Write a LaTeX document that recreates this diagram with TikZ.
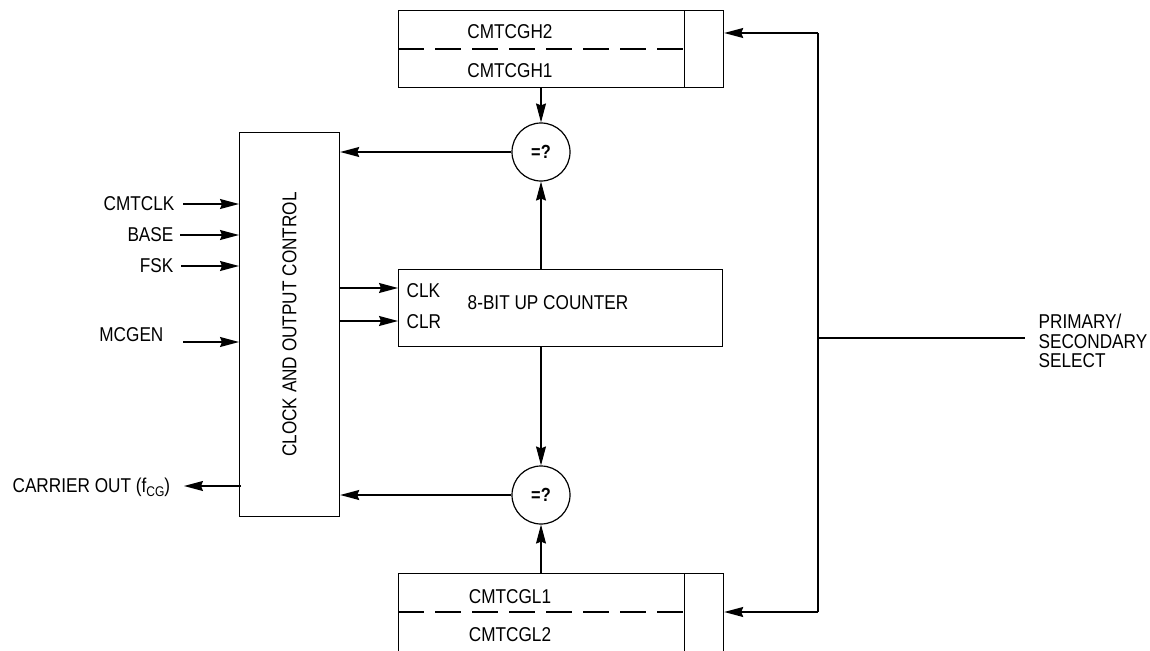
\documentclass[tikz,border=0pt]{standalone}
\usepackage{fontspec}
\setmainfont{Liberation Sans}[FakeStretch=0.86]
\usetikzlibrary{arrows.meta}
\begin{document}
\begin{tikzpicture}[x=1pt,y=-1pt, line width=1.2pt,
  arr/.style={-{Stealth[length=19pt,width=10pt,inset=2pt]}},
  lbl/.style={font=\fontsize{20}{19.5}\selectfont, inner sep=0pt},
  box/.style={draw, inner sep=0pt, anchor=north west},
  cmp/.style={draw, circle, minimum size=58pt, inner sep=0pt, font=\fontsize{19}{19}\selectfont\bfseries},
  dsh/.style={dash pattern=on 26pt off 11pt}]
\useasboundingbox (0,0) rectangle (1150,650);
\clip (0,0) rectangle (1150,650);
% top register
\node[box, minimum width=286pt, minimum height=77pt] (th) at (398,10) {};
\node[box, minimum width=39pt, minimum height=77pt] (ts) at (684,10) {};
\draw[dsh] (th.west) -- (th.east);
\node[lbl] (h2) at (510,32) {CMTCGH2};
\node[lbl] (h1) at (510,71) {CMTCGH1};
% comparators
\node[cmp] (ch) at (541,152) {=?};
\node[cmp] (cl) at (541,495) {=?};
% clock box
\node[box, minimum width=100pt, minimum height=384pt] (clk) at (239,132) {};
\node[lbl, rotate=90] (clkt) at (clk.center) {CLOCK AND OUTPUT CONTROL};
% counter
\node[box, minimum width=324pt, minimum height=77pt] (cnt) at (398,269) {};
\node[lbl, anchor=west] (clkin) at (406,291) {CLK};
\node[lbl, anchor=west] (clrin) at (406,322) {CLR};
\node[lbl] (cntt) at (548,303) {8-BIT UP COUNTER};
% bottom register
\node[box, minimum width=286pt, minimum height=95pt] (lh) at (398,573) {};
\node[box, minimum width=39pt, minimum height=95pt] (ls) at (684,573) {};
\draw[dsh] ([yshift=-39pt]lh.north west) -- ([yshift=-39pt]lh.north east);
\node[lbl] (l1) at (510,597) {CMTCGL1};
\node[lbl] (l2) at (510,635) {CMTCGL2};
% left inputs
\node[lbl, anchor=east] (i1) at (175,204) {CMTCLK};
\node[lbl, anchor=east] (i2) at (174,235) {BASE};
\node[lbl, anchor=east] (i3) at (174,266) {FSK};
\node[lbl, anchor=east] (i4) at (164,335) {MCGEN};
\coordinate (s1) at (183,204);
\coordinate (s2) at (180,235);
\coordinate (s3) at (181,266);
\coordinate (s4) at (183,342);
\draw[arr] (s1) -- (s1 -| clk.west);
\draw[arr] (s2) -- (s2 -| clk.west);
\draw[arr] (s3) -- (s3 -| clk.west);
\draw[arr] (s4) -- (s4 -| clk.west);
% carrier out
\node[lbl, anchor=west] (co) at (12,487) {CARRIER OUT (f{\fontsize{14}{14}\selectfont\raisebox{-4pt}{CG}})};
\coordinate (cos) at (241,486);
\coordinate (coe) at (184,486);
\draw[arr] (cos) -- (coe);
% clock to counter
\coordinate (k1) at (340,288);
\coordinate (k2) at (340,321);
\draw[arr] (k1) -- (k1 -| cnt.west);
\draw[arr] (k2) -- (k2 -| cnt.west);
% vertical data paths
\draw[arr] (ch |- th.south) -- (ch.north);
\draw[arr] (ch |- cnt.north) -- (ch.south);
\draw[arr] (cl |- cnt.south) -- (cl.north);
\draw[arr] (cl |- lh.north) -- (cl.south);
% comparator outputs
\draw[arr] (ch.west) -- (ch.west -| clk.east);
\draw[arr] (cl.west) -- (cl.west -| clk.east);
% select
\node[lbl, anchor=west, align=left] (sel) at (1038,341) {PRIMARY/\\SECONDARY\\SELECT};
\coordinate (jt) at (818,33);
\coordinate (jb) at (818,612);
\coordinate (jm) at (818,338);
\coordinate (je) at (1025,338);
\draw (jt) -- (jb);
\draw (jm) -- (je);
\draw[arr] (jt) -- (jt -| ts.east);
\draw[arr] (jb) -- (jb -| ls.east);
\end{tikzpicture}
\end{document}
